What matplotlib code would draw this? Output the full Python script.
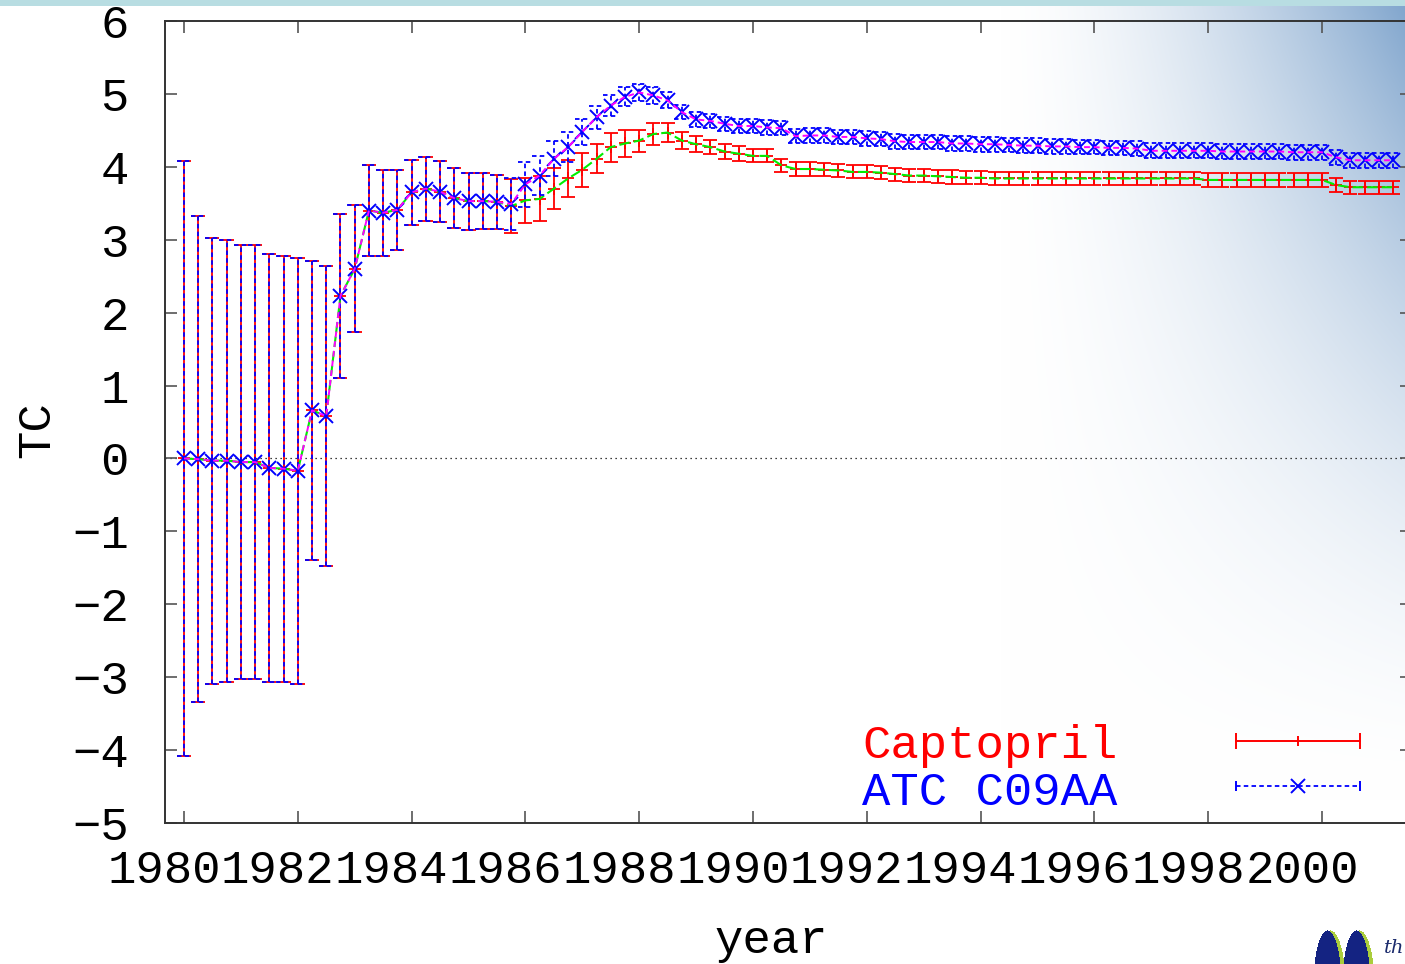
import numpy as np
import matplotlib
matplotlib.use("Agg")
import matplotlib.pyplot as plt
from matplotlib.lines import Line2D
from matplotlib import transforms

# TC per quarter, 1980.00 .. 2001.25
captopril_tc = [
    0.00, -0.01, -0.03, -0.03, -0.05, -0.05, -0.13, -0.14, -0.17, 0.66,
    0.58, 2.23, 2.60, 3.40, 3.37, 3.41, 3.65, 3.70, 3.66, 3.57,
    3.53, 3.53, 3.52, 3.46, 3.54, 3.56, 3.70, 3.84, 3.96, 4.11,
    4.27, 4.32, 4.36, 4.45, 4.47, 4.36, 4.31, 4.27, 4.21, 4.18,
    4.15, 4.15, 4.02, 3.97, 3.97, 3.96, 3.95, 3.93, 3.93, 3.92,
    3.90, 3.88, 3.88, 3.87, 3.86, 3.85, 3.85, 3.84, 3.84, 3.84,
    3.84, 3.84, 3.84, 3.84, 3.84, 3.84, 3.84, 3.84, 3.84, 3.84,
    3.84, 3.84, 3.82, 3.82, 3.82, 3.82, 3.82, 3.82, 3.82, 3.82,
    3.82, 3.75, 3.72, 3.72, 3.72, 3.72,
]
captopril_err = [
    4.08, 3.33, 3.06, 3.03, 2.98, 2.98, 2.93, 2.92, 2.92, 2.05,
    2.06, 1.12, 0.87, 0.63, 0.59, 0.55, 0.45, 0.44, 0.42, 0.41,
    0.39, 0.38, 0.37, 0.37, 0.31, 0.31, 0.28, 0.26, 0.235, 0.20,
    0.20, 0.19, 0.15, 0.15, 0.13, 0.12, 0.11, 0.10, 0.10, 0.10,
] + [0.09] * 46

atc_tc = captopril_tc[:23] + [
    3.49, 3.76, 3.88, 4.11, 4.27, 4.48, 4.68, 4.84, 4.96, 5.02,
    4.98, 4.91, 4.75, 4.65, 4.63, 4.59, 4.56, 4.56, 4.54, 4.53,
    4.42, 4.43, 4.43, 4.41, 4.41, 4.39, 4.38, 4.35, 4.34, 4.34,
    4.34, 4.32, 4.32, 4.31, 4.31, 4.30, 4.29, 4.29, 4.28, 4.28,
    4.27, 4.27, 4.26, 4.26, 4.25, 4.22, 4.22, 4.22, 4.22, 4.22,
    4.21, 4.21, 4.21, 4.21, 4.21, 4.20, 4.20, 4.20, 4.13, 4.09,
    4.09, 4.09, 4.09,
]
atc_err = captopril_err[:23] + [
    0.35, 0.31, 0.27, 0.24, 0.21, 0.18, 0.16, 0.14, 0.13, 0.12,
    0.12, 0.11,
] + [0.10] * 51

year_ticks = list(range(1980, 2001, 2))
tc_ticks = list(range(-5, 7))

MONO = ["Liberation Mono", "DejaVu Sans Mono"]
W, H = 1405, 964

fig = plt.figure(figsize=(W / 100, H / 100), dpi=100)

# slide background: gradient in the top right, thin band on top, logo
yy, xx = np.mgrid[0:H, 0:W]
u = np.clip((xx - 1000) / 405, 0, 1) ** 1.6
v = np.clip(1 - yy / 800, 0, 1) ** 1.6
t = (u * v)[..., None]
bg = np.array([255.0, 255, 255]) * (1 - t) + np.array([128.0, 165, 205]) * t
bg[:6] = [184, 221, 226]
for cx in (1327, 1356):
    edge = ((xx - cx - 3) / 15) ** 2 + ((yy - 985) / 55) ** 2 <= 1
    bg[edge] = [170, 205, 60]
    body = ((xx - cx) / 14) ** 2 + ((yy - 985) / 55) ** 2 <= 1
    bg[body] = [20, 35, 130]
fig.figimage(bg.astype(np.uint8), xo=0, yo=0, origin="upper", zorder=-1)
fig.text(1384 / W, 1 - 948 / H, "th", fontsize=14, style="italic",
         family="DejaVu Serif", color="#1a2a6c", va="center")

ax = fig.add_axes([165 / W, (H - 823) / H, (1412 - 165) / W, (823 - 21) / H])
ax.set_facecolor("none")

years = 1980 + 0.25 * np.arange(len(captopril_tc))
cap = np.array(captopril_tc)
cap_e = np.array(captopril_err)
atc = np.array(atc_tc)
atc_e = np.array(atc_err)

ax.axhline(0, color="black", lw=0.9, ls=(0, (1, 3)), zorder=1)

ax.errorbar(years, cap, yerr=cap_e, fmt="none", ecolor="red",
            elinewidth=1.3, capsize=5, capthick=1.3, zorder=2)
ax.plot(years, cap, ls="none", marker="+", ms=9, mew=1.3, color="red", zorder=2)
ax.plot(years, cap, color="#00ee00", lw=1.5, ls=(0, (5, 2)), zorder=3)

dash = (0, (2.5, 1.8))
ax.vlines(years, atc - atc_e, atc + atc_e, colors="blue", lw=1.3,
          linestyles=[dash], zorder=4)
ax.hlines(atc + atc_e, years - 0.13, years + 0.13, colors="blue", lw=1.3,
          linestyles=[dash], zorder=4)
ax.hlines(atc - atc_e, years - 0.13, years + 0.13, colors="blue", lw=1.3,
          linestyles=[dash], zorder=4)
ax.plot(years, atc, ls="none", marker="x", ms=9.5, mew=1.4, color="blue", zorder=4)
ax.plot(years, atc, color="magenta", lw=1.4, ls=(0, (3, 2)), zorder=5)

ax.set_xlim(1980 + (165 - 184) / 56.9, 1980 + (1412 - 184) / 56.9)
ax.set_ylim(-5, 6)

for s in ax.spines.values():
    s.set_color("#333333")
    s.set_linewidth(1.4)

ax.set_xticks(year_ticks)
ax.set_xticklabels([str(y) for y in year_ticks], fontfamily=MONO, fontsize=34)
ax.set_yticks(tc_ticks)
ax.set_yticklabels([str(v).replace("-", "\u2212") for v in tc_ticks],
                   fontfamily=MONO, fontsize=34)
ax.tick_params(axis="both", direction="in", length=8.5, width=1.2, color="#555555")
ax.tick_params(axis="x", pad=19, top=True)
ax.tick_params(axis="y", pad=26, right=True)

shift = transforms.ScaledTranslation(-20 / 100, 0, fig.dpi_scale_trans)
for lab in ax.get_xticklabels():
    lab.set_transform(lab.get_transform() + shift)

fig.text(37 / W, 1 - 430 / H, "TC", rotation=90, ha="center", va="center",
         family=MONO, fontsize=34)
fig.text(771 / W, 1 - 953 / H, "year", ha="center", va="baseline",
         family=MONO, fontsize=34)

# key
fig.text(862 / W, 1 - 758 / H, "Captopril", color="red", family=MONO,
         fontsize=34, va="baseline")
fig.text(862 / W, 1 - 805 / H, "ATC C09AA", color="blue", family=MONO,
         fontsize=34, va="baseline")
kx = [1236 / W, 1360 / W]
ky1 = 1 - 741 / H
ky2 = 1 - 786 / H
fig.add_artist(Line2D(kx, [ky1, ky1], color="red", lw=1.4))
fig.add_artist(Line2D(kx, [ky1, ky1], ls="none", marker="|", ms=11, mew=1.4, color="red"))
fig.add_artist(Line2D([1298 / W], [ky1], ls="none", marker="|", ms=7, mew=1.4, color="red"))
fig.add_artist(Line2D(kx, [ky2, ky2], color="blue", lw=1.3, ls=dash))
fig.add_artist(Line2D(kx, [ky2, ky2], ls="none", marker="|", ms=7, mew=1.4, color="blue"))
fig.add_artist(Line2D([1298 / W], [ky2], ls="none", marker="x", ms=9.5, mew=1.4, color="blue"))

fig.savefig("out.png", dpi=100)
